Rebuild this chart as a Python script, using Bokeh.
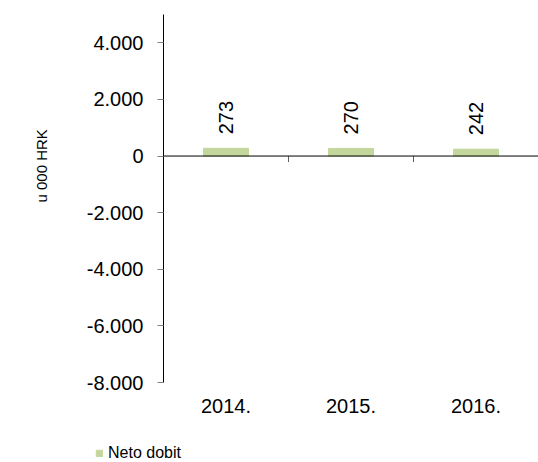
import math
from bokeh.plotting import figure
from bokeh.layouts import column, row
from bokeh.models import (Range1d, LinearAxis, FixedTicker, CustomJSTickFormatter,
                          ColumnDataSource, Span, Title, Legend, LegendItem)
from bokeh.core.properties import value
from bokeh.embed import file_html
from bokeh.resources import INLINE

# ---- data ----
categories = ["2014.", "2015.", "2016."]
neto_dobit = [273, 270, 242]
y_ticks = [-8000, -6000, -4000, -2000, 0, 2000, 4000]
series_name = "Neto dobit"
axis_title = "u 000 HRK"

FONT = "Liberation Sans"
BAR_COLOR = "#C3D69B"

xs = [i + 0.5 for i in range(len(categories))]
bounds = list(range(len(categories) + 1))

p = figure(width=538, height=442, output_backend="svg", toolbar_location=None,
           x_range=Range1d(0, len(categories)), y_range=Range1d(-8000, 5000),
           x_axis_type=None, y_axis_type=None,
           min_border_left=163, min_border_right=0, min_border_top=14,
           min_border_bottom=60)
p.outline_line_color = None
p.xgrid.visible = False
p.ygrid.visible = False
p.background_fill_color = "white"
p.border_fill_color = "white"

# y axis
yaxis = LinearAxis(ticker=FixedTicker(ticks=y_ticks))
yaxis.formatter = CustomJSTickFormatter(code="""
    return tick.toFixed(0).replace(/\\B(?=(\\d{3})+(?!\\d))/g, ".");
""")
yaxis.axis_line_color = "black"
yaxis.major_tick_line_color = "#808080"
yaxis.major_tick_out = 6
yaxis.major_tick_in = 0
yaxis.minor_tick_line_color = None
yaxis.major_label_text_font = FONT
yaxis.major_label_text_font_size = "20px"
yaxis.major_label_text_color = "black"
yaxis.major_label_standoff = 14
p.add_layout(yaxis, "left")

# axis title as a side title
p.add_layout(Title(text=axis_title, align="left", vertical_align="top",
                   offset=180, standoff=63,
                   text_font=FONT, text_font_size="15px", text_font_style="normal",
                   text_color="black"), "left")

# x axis (labels only)
xaxis = LinearAxis(ticker=FixedTicker(ticks=xs))
xaxis.formatter = CustomJSTickFormatter(args=dict(cats=categories),
                                        code="return cats[Math.floor(tick)];")
xaxis.axis_line_color = None
xaxis.major_tick_line_color = None
xaxis.minor_tick_line_color = None
xaxis.major_tick_out = 0
xaxis.major_tick_in = 0
xaxis.major_label_text_font = FONT
xaxis.major_label_text_font_size = "20px"
xaxis.major_label_text_color = "black"
xaxis.major_label_standoff = 16
p.add_layout(xaxis, "below")

# zero line and category boundary ticks
p.add_layout(Span(location=0, dimension="width", line_color="black", line_width=1))
p.ray(x=bounds, y=[0] * len(bounds), length=6, length_units="screen",
      angle=-math.pi / 2, line_color="#606060", line_width=1)

src = ColumnDataSource(dict(x=xs, v=neto_dobit, lbl=[str(v) for v in neto_dobit]))
bars = p.vbar(x="x", top="v", bottom=0, width=0.36, source=src,
              fill_color=BAR_COLOR, line_color=BAR_COLOR)

p.text(x="x", y="v", text="lbl", source=src, angle=math.pi / 2,
       text_align="left", text_baseline="middle", y_offset=-14,
       text_font=value(FONT), text_font_size="20px", text_color="black")

# legend strip below the chart
pl = figure(width=538, height=20, output_backend="svg", toolbar_location=None,
            x_range=Range1d(0, 1), y_range=Range1d(0, 1),
            x_axis_type=None, y_axis_type=None,
            min_border_left=0, min_border_right=0, min_border_top=0,
            min_border_bottom=0)
pl.outline_line_color = None
pl.xgrid.visible = False
pl.ygrid.visible = False
swatch = pl.vbar(x=xs, top=neto_dobit, width=0.36, fill_color=BAR_COLOR,
                 line_color=BAR_COLOR, visible=False)
legend = Legend(items=[LegendItem(label=series_name, renderers=[swatch])],
                location=(95, 0), padding=0, margin=0, spacing=0,
                glyph_width=8, glyph_height=8, label_standoff=5, label_height=16,
                label_text_font=FONT, label_text_font_size="16px",
                label_text_color="black", border_line_color=None,
                background_fill_alpha=0, inactive_fill_alpha=0)
pl.add_layout(legend, "center")

open("out.html", "w").write(file_html(column(p, row(pl), spacing=0), INLINE))
